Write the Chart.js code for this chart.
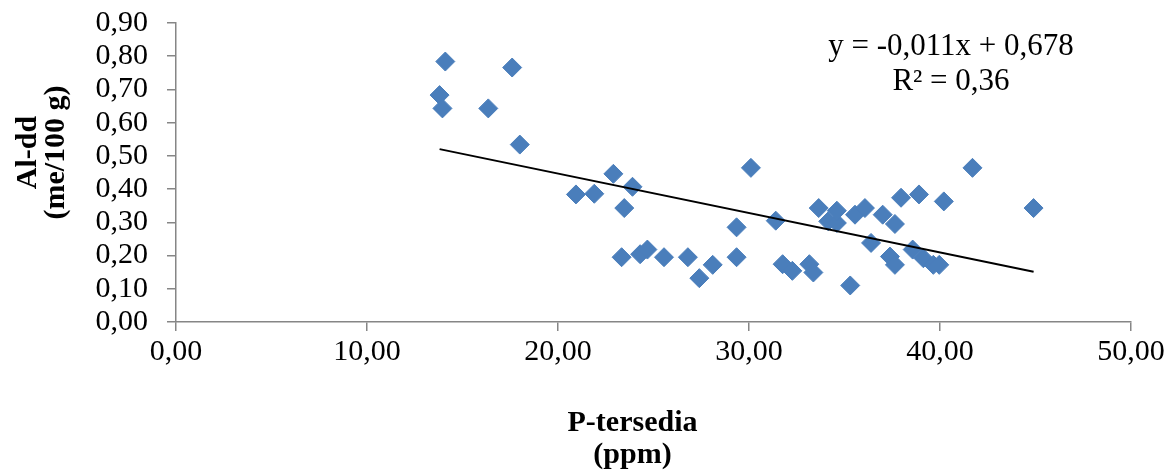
<!DOCTYPE html>
<html>
<head>
<meta charset="utf-8">
<script src="https://cdn.jsdelivr.net/npm/chart.js@4/dist/chart.umd.min.js"></script>
<style>
  html, body { margin: 0; padding: 0; background: #fff; }
  #wrap { width: 1168px; height: 470px; }
</style>
</head>
<body>
<div id="wrap"><canvas id="chart" width="1168" height="470"></canvas></div>
<script>
// P-tersedia (ppm)
const pValues = [13.8, 13.95, 14.1, 16.35, 17.6, 18.0, 20.94, 21.9, 22.9, 23.9,
  23.47, 23.33, 24.3, 24.68, 25.55, 26.8, 27.4, 28.1, 29.35, 29.35,
  30.1, 31.4, 31.76, 32.27, 33.16, 33.37, 33.65, 34.15, 34.6, 34.6,
  35.55, 36.07, 37.0, 37.64, 37.96, 38.9, 40.2, 41.7, 44.9, 36.39,
  37.38, 37.64, 38.57, 39.13, 39.65, 39.96, 35.3];
// Al-dd (me/100 g)
const alValues = [0.683, 0.643, 0.784, 0.643, 0.766, 0.534, 0.384, 0.386, 0.446, 0.407,
  0.343, 0.195, 0.204, 0.218, 0.195, 0.195, 0.132, 0.172, 0.195, 0.285,
  0.464, 0.305, 0.174, 0.154, 0.174, 0.149, 0.343, 0.303, 0.298, 0.335,
  0.323, 0.343, 0.323, 0.295, 0.374, 0.384, 0.363, 0.464, 0.343, 0.238,
  0.197, 0.172, 0.218, 0.192, 0.172, 0.172, 0.110];

const xTitle = ['P-tersedia', '(ppm)'];
const yTitle = ['Al-dd', '(me/100 g)'];
const equation = 'y = -0,011x + 0,678';
const rSquared = 'R² = 0,36';

const points = pValues.map((x, i) => ({ x: x, y: alValues[i] }));

// linear trendline (least squares) over the data range
const n = pValues.length;
const mx = pValues.reduce((a, b) => a + b, 0) / n;
const my = alValues.reduce((a, b) => a + b, 0) / n;
let sxy = 0, sxx = 0;
for (let i = 0; i < n; i++) {
  sxy += (pValues[i] - mx) * (alValues[i] - my);
  sxx += (pValues[i] - mx) * (pValues[i] - mx);
}
const slope = sxy / sxx, intercept = my - slope * mx;
const xMin = Math.min(...pValues), xMax = Math.max(...pValues);
const trend = [
  { x: xMin, y: intercept + slope * xMin },
  { x: xMax, y: intercept + slope * xMax }
];

const fmt = v => v.toFixed(2).replace('.', ',');
const serif = '"Liberation Serif", "Times New Roman", serif';
const axisGrey = '#868686';

const textPlugin = {
  id: 'texts',
  afterDraw(chart) {
    const ctx = chart.ctx, area = chart.chartArea;
    ctx.save();
    ctx.fillStyle = '#000';
    ctx.textAlign = 'center';
    ctx.textBaseline = 'alphabetic';

    ctx.font = '31px ' + serif;
    ctx.fillText(equation, 951, 55);
    ctx.fillText(rSquared, 951, 90);

    ctx.font = 'bold 30px ' + serif;
    const cx = (area.left + area.right) / 2 - 21;
    ctx.fillText(xTitle[0], cx, 431);
    ctx.fillText(xTitle[1], cx, 463);

    const cy = (area.top + area.bottom) / 2 - 20;
    ctx.translate(0, cy);
    ctx.rotate(-Math.PI / 2);
    ctx.fillText(yTitle[0], 0, 36);
    ctx.fillText(yTitle[1], 0, 64);
    ctx.restore();
  }
};

new Chart(document.getElementById('chart'), {
  type: 'scatter',
  data: {
    datasets: [
      {
        data: points,
        pointStyle: 'rectRot',
        pointRadius: 9.5,
        pointBorderWidth: 1,
        backgroundColor: '#4a7ebb',
        borderColor: '#4a7ebb',
        order: 2
      },
      {
        type: 'line',
        data: trend,
        borderColor: '#000',
        borderWidth: 2,
        pointRadius: 0,
        fill: false,
        order: 1
      }
    ]
  },
  options: {
    responsive: false,
    animation: false,
    devicePixelRatio: 1,
    layout: { padding: { top: 23, right: 37, left: 0, bottom: 0 } },
    plugins: { legend: { display: false }, tooltip: { enabled: false } },
    scales: {
      x: {
        type: 'linear',
        min: 0, max: 50,
        afterFit(scale) {
          scale.height = 148;
          scale.paddingLeft = 0;
          scale.paddingRight = 0;
        },
        ticks: {
          stepSize: 10,
          padding: 3,
          autoSkip: false,
          maxRotation: 0,
          color: '#000',
          font: { family: serif, size: 30 },
          callback: v => fmt(v)
        },
        grid: { drawOnChartArea: false, drawTicks: true, tickLength: 9, color: axisGrey, lineWidth: 1.5 },
        border: { color: axisGrey, width: 1.5 }
      },
      y: {
        type: 'linear',
        min: 0, max: 0.9,
        afterFit(scale) {
          scale.width = 176;
          scale.paddingTop = 0;
          scale.paddingBottom = 0;
        },
        ticks: {
          stepSize: 0.1,
          padding: 19,
          autoSkip: false,
          color: '#000',
          font: { family: serif, size: 30, lineHeight: 1 },
          callback: v => fmt(v)
        },
        grid: { drawOnChartArea: false, drawTicks: true, tickLength: 9, color: axisGrey, lineWidth: 1.5 },
        border: { color: axisGrey, width: 1.5 }
      }
    }
  },
  plugins: [textPlugin]
});
</script>
</body>
</html>
